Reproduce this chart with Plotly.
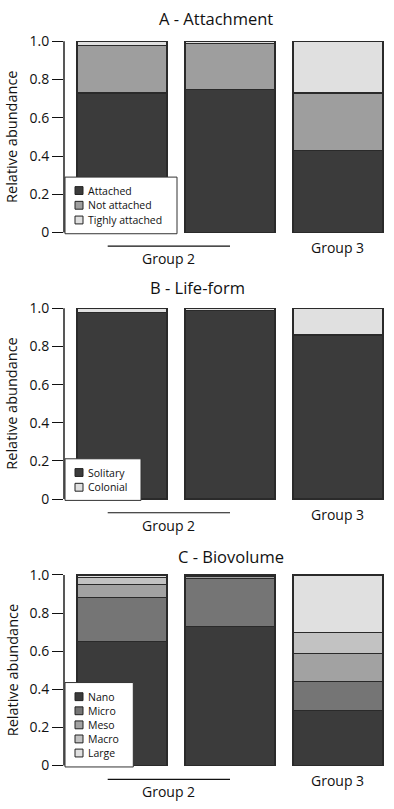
import plotly.graph_objects as go

# ---------------- data ----------------
bars = ["Group 2 (i)", "Group 2 (ii)", "Group 3"]

attach_names = ["Attached", "Not attached", "Tighly attached"]
attach_values = [
    [0.73, 0.75, 0.43],   # Attached
    [0.25, 0.24, 0.30],   # Not attached
    [0.02, 0.01, 0.27],   # Tighly attached
]

life_names = ["Solitary", "Colonial"]
life_values = [
    [0.98, 0.99, 0.86],   # Solitary
    [0.02, 0.01, 0.14],   # Colonial
]

bio_names = ["Nano", "Micro", "Meso", "Macro", "Large"]
bio_values = [
    [0.65, 0.73, 0.29],    # Nano
    [0.23, 0.25, 0.15],    # Micro
    [0.07, 0.01, 0.15],    # Meso
    [0.035, 0.005, 0.11],  # Macro
    [0.015, 0.005, 0.30],  # Large
]

panel_titles = ["A - Attachment", "B - Life-form", "C - Biovolume"]
tick_vals = [0, 0.2, 0.4, 0.6, 0.8, 1.0]
tick_text = ["0", "0.2", "0.4", "0.6", "0.8", "1.0"]

# ---------------- styling ----------------
W, H = 394, 809
FONT = "Open Sans, Lato, DejaVu Sans, sans-serif"
TXT = "#111111"
OUTLINE = "#2a2a2a"
attach_colors = ["#3b3b3b", "#9e9e9e", "#e0e0e0"]
life_colors = ["#3b3b3b", "#e0e0e0"]
bio_colors = ["#3b3b3b", "#757575", "#a2a2a2", "#c2c2c2", "#e0e0e0"]

# pixel geometry (y of value 1.0 and value 0 for each panel)
panels_px = [(34.0, 228.7), (306.0, 500.3), (577.7, 771.9)]
PAD = 0.01
x_axis_px = 64.0
bar_center0 = 122.0
bar_step = 108.0
bar_width_px = 90.0

def px_x(p):
    return p / W

def px_y(p):
    return (H - p) / H

def ydomain(top, bot):
    pad = PAD * (bot - top)
    return [px_y(bot + pad), px_y(top - pad)]

x_range = [(x_axis_px - bar_center0) / bar_step, (W - bar_center0) / bar_step]
bar_w = bar_width_px / bar_step

fig = go.Figure()

datasets = [
    (attach_names, attach_values, attach_colors),
    (life_names, life_values, life_colors),
    (bio_names, bio_values, bio_colors),
]

for i, (names, values, colors) in enumerate(datasets):
    xa = "x" if i == 0 else f"x{i+1}"
    ya = "y" if i == 0 else f"y{i+1}"
    for name, vals, col in zip(names, values, colors):
        fig.add_trace(go.Bar(
            x=list(range(len(bars))), y=vals, name=name,
            xaxis=xa, yaxis=ya, width=bar_w,
            marker=dict(color=col, line=dict(color=OUTLINE, width=1.2)),
            showlegend=False,
            customdata=bars,
            hovertemplate="%{customdata}<br>" + name + ": %{y}<extra></extra>",
        ))

layout = dict(
    width=W, height=H,
    margin=dict(l=0, r=0, t=0, b=0),
    barmode="stack",
    plot_bgcolor="white", paper_bgcolor="white",
    font=dict(family=FONT, color=TXT),
)

shapes = []
annotations = []

for i, (top, bot) in enumerate(panels_px):
    sfx = "" if i == 0 else str(i + 1)
    layout["xaxis" + sfx] = dict(
        domain=[px_x(x_axis_px), 1.0], range=x_range, visible=False,
        anchor="y" + sfx, fixedrange=True,
    )
    layout["yaxis" + sfx] = dict(
        domain=ydomain(top, bot), range=[-PAD, 1 + PAD],
        anchor="x" + sfx, showgrid=False, zeroline=False, showline=False,
        ticks="outside", ticklen=11, tickwidth=1.4, tickcolor="#111",
        tickvals=tick_vals, ticktext=tick_text,
        tickfont=dict(size=14, family=FONT, color=TXT), fixedrange=True,
    )
    # y axis line spanning exactly 0..1
    shapes.append(dict(type="line", xref=f"x{sfx} domain", yref="y" + sfx,
                       x0=0, x1=0, y0=0, y1=1, line=dict(color="#111", width=1.4)))
    # y axis title
    annotations.append(dict(text="Relative abundance", xref="paper", yref="paper",
                            x=px_x(12), y=px_y((top + bot) / 2), textangle=-90,
                            showarrow=False, xanchor="center", yanchor="middle",
                            font=dict(size=14.5, family=FONT, color=TXT)))

# panel titles
title_pos = [(216, 10.5), (197.5, 285), (231, 559)]
for t, (tx, ty) in zip(panel_titles, title_pos):
    annotations.append(dict(text=t, xref="paper", yref="paper", x=px_x(tx), y=px_y(ty),
                            showarrow=False, xanchor="center", yanchor="middle",
                            font=dict(size=16.5, family=FONT, color=TXT)))

# group labels and group-2 underline
for i, (top, bot) in enumerate(panels_px):
    line_y = bot + 14
    shapes.append(dict(type="line", xref="paper", yref="paper",
                       x0=px_x(107.7), x1=px_x(230), y0=px_y(line_y), y1=px_y(line_y),
                       line=dict(color="#111", width=1.2)))
    annotations.append(dict(text="Group 2", xref="paper", yref="paper",
                            x=px_x(168), y=px_y(bot + 26.5), showarrow=False,
                            xanchor="center", yanchor="middle",
                            font=dict(size=14, family=FONT, color=TXT)))
    annotations.append(dict(text="Group 3", xref="paper", yref="paper",
                            x=px_x(337.5), y=px_y(bot + 15.5), showarrow=False,
                            xanchor="center", yanchor="middle",
                            font=dict(size=14, family=FONT, color=TXT)))

# legends (drawn boxes)
legend_boxes = [
    (65, 177, 172.3, 230.0, [186.0, 201.0, 216.0]),
    (65, 141, 459.3, 501.7, [473.3, 488.3]),
    (65, 133.3, 687.3, 773.3, [701.7, 716.05, 730.4, 744.75, 759.1]),
]
for (x0, x1, y0, y1, ys), (names, values, colors) in zip(legend_boxes, datasets):
    shapes.append(dict(type="rect", xref="paper", yref="paper",
                       x0=px_x(x0), x1=px_x(x1), y0=px_y(y1), y1=px_y(y0),
                       fillcolor="white", line=dict(color="#333", width=1)))
    for name, col, yc in zip(names, colors, ys):
        shapes.append(dict(type="rect", xref="paper", yref="paper",
                           x0=px_x(75), x1=px_x(83), y0=px_y(yc + 4), y1=px_y(yc - 4),
                           fillcolor=col, line=dict(color="#222", width=1)))
        annotations.append(dict(text=name, xref="paper", yref="paper",
                                x=px_x(86.5), y=px_y(yc), showarrow=False,
                                xanchor="left", yanchor="middle", borderpad=0,
                                font=dict(size=10.5, family=FONT, color=TXT)))

layout["shapes"] = shapes
layout["annotations"] = annotations
fig.update_layout(**layout)

fig.write_html("out.html", config={"displayModeBar": False},
               post_script="document.body.style.margin='0';document.body.style.overflow='hidden';")
